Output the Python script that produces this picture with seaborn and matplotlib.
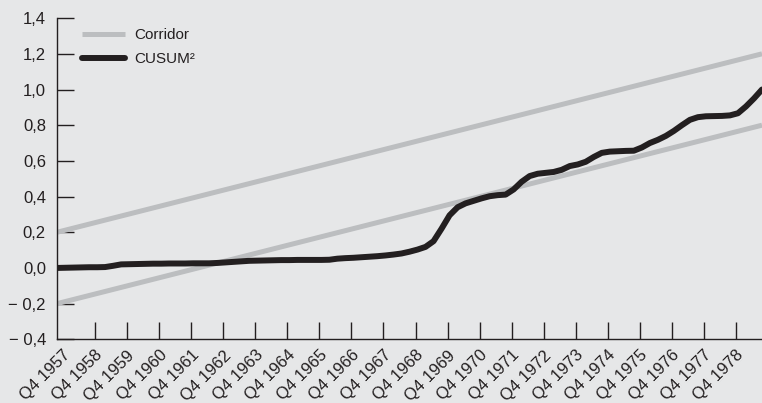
import numpy as np
import pandas as pd
import matplotlib
matplotlib.use("Agg")
import matplotlib.pyplot as plt
import seaborn as sns

# Quarterly CUSUM of squares statistic, Q3 1957 .. Q3 1979
cusum_sq = [
    0.000, 0.001, 0.002, 0.003, 0.004, 0.004, 0.005, 0.012, 0.020, 0.021,
    0.022, 0.023, 0.024, 0.024, 0.025, 0.025, 0.025, 0.026, 0.026, 0.026,
    0.028, 0.031, 0.034, 0.037, 0.040, 0.041, 0.042, 0.043, 0.044, 0.044,
    0.045, 0.045, 0.045, 0.045, 0.046, 0.052, 0.055, 0.057, 0.060, 0.063,
    0.066, 0.070, 0.075, 0.081, 0.091, 0.103, 0.118, 0.150, 0.220, 0.295,
    0.340, 0.362, 0.376, 0.390, 0.402, 0.408, 0.411, 0.440, 0.483, 0.515,
    0.528, 0.533, 0.538, 0.550, 0.571, 0.580, 0.595, 0.622, 0.645, 0.652,
    0.654, 0.656, 0.657, 0.675, 0.700, 0.718, 0.740, 0.768, 0.800, 0.830,
    0.845, 0.850, 0.851, 0.852, 0.855, 0.867, 0.905, 0.950, 1.000,
]

# Corridor bounds (straight lines): values at the first and last quarter
corridor_lower = [-0.2, 0.8]
corridor_upper = [0.2, 1.2]

tick_years = list(range(1957, 1979))
x_labels = [f"Q4 {y}" for y in tick_years]
y_ticks = [-0.4, -0.2, 0.0, 0.2, 0.4, 0.6, 0.8, 1.0, 1.2, 1.4]
y_labels = ["\u2212 0,4", "\u2212 0,2", "0,0", "0,2", "0,4", "0,6",
            "0,8", "1,0", "1,2", "1,4"]

BG = "#e6e7e8"
GREY = "#bcbec0"
INK = "#231f20"
FS = 11

sns.set_theme(style="white")
plt.rcParams["font.family"] = ["Liberation Sans", "DejaVu Sans"]
plt.rcParams["text.color"] = INK

n = len(cusum_sq)
quarters = np.arange(n)
df = pd.DataFrame({"q": quarters, "v": cusum_sq})
ends = [0, n - 1]
lo = pd.DataFrame({"q": ends, "v": corridor_lower})
hi = pd.DataFrame({"q": ends, "v": corridor_upper})

fig = plt.figure(figsize=(7.62, 4.03), dpi=100, facecolor=BG)
ax = fig.add_axes([0.0748, 0.158, 0.9252, 0.797])
ax.set_facecolor(BG)

sns.lineplot(data=hi, x="q", y="v", ax=ax, color=GREY, lw=3.6,
             label="Corridor", solid_capstyle="butt")
sns.lineplot(data=lo, x="q", y="v", ax=ax, color=GREY, lw=3.6,
             solid_capstyle="butt")
sns.lineplot(data=df, x="q", y="v", ax=ax, color=INK, lw=4.3,
             label="CUSUM\u00b2", solid_capstyle="round")

ax.set_xlim(0, n - 1)
ax.set_ylim(-0.4, 1.4)
ax.set_xlabel("")
ax.set_ylabel("")

# Q4 positions on the quarterly axis
x_ticks = [0.75 + 4 * k for k in range(len(tick_years))]
ax.set_xticks(x_ticks)
ax.set_xticklabels(x_labels, rotation=45, ha="right", rotation_mode="anchor",
                   fontsize=12, color=INK)
ax.set_yticks(y_ticks)
ax.set_yticklabels(y_labels, fontsize=12, color=INK)

ax.tick_params(axis="x", direction="in", length=12, width=1.0, color=INK, pad=6,
               bottom=True)
ax.tick_params(axis="y", direction="in", length=12, width=1.0, color=INK, pad=8,
               left=True)
# the first Q4 mark sits against the vertical axis: no tick line there
ax.xaxis.get_major_ticks()[0].tick1line.set_visible(False)

for side in ("top", "right"):
    ax.spines[side].set_visible(False)
for side in ("left", "bottom"):
    ax.spines[side].set_color(INK)
    ax.spines[side].set_linewidth(1.0)

leg = ax.legend(loc="upper left", bbox_to_anchor=(0.016, 1.012), frameon=False,
                fontsize=FS, handlelength=2.8, handletextpad=0.65,
                labelspacing=0.65)
for t in leg.get_texts():
    t.set_color(INK)

fig.savefig("out.png", dpi=100, facecolor=BG)
